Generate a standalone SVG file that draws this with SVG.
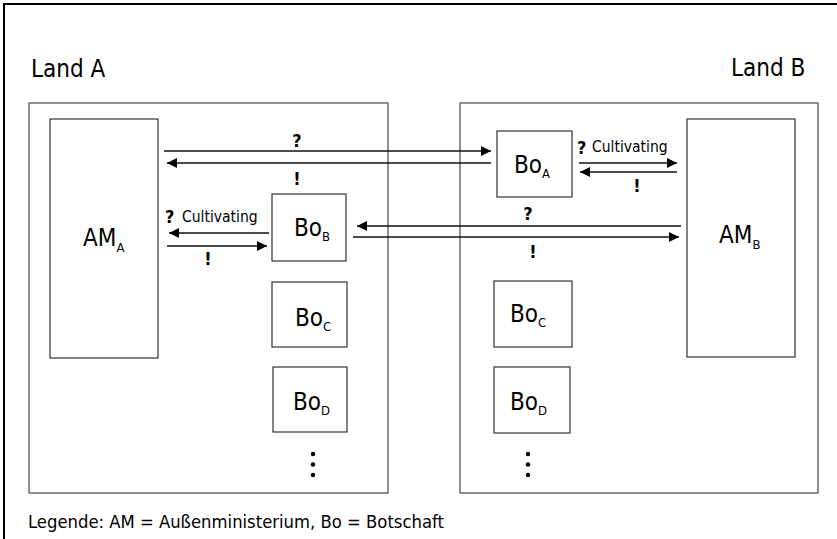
<svg xmlns="http://www.w3.org/2000/svg" width="837" height="539" viewBox="0 0 837 539">
<defs>
<marker id="ah" viewBox="0 0 10 10" refX="10" refY="5" markerWidth="10" markerHeight="10" markerUnits="userSpaceOnUse" orient="auto">
<path d="M0,0 L10,5 L0,10 z" fill="#000"/>
</marker>
<style>
text{font-family:"DejaVu Sans Condensed","DejaVu Sans",sans-serif;fill:#000}
.land{fill:#fff;stroke:#555;stroke-width:1.3}
.box{fill:#fff;stroke:#333;stroke-width:1.2}
.lbl{font-size:24px}
.sub{font-size:13px}
.big{font-size:24px}
.mk{font-size:18px;font-weight:bold;text-anchor:middle}
.mk2{font-size:18px;font-weight:bold}
.cult{font-size:15.5px}
.arr{stroke:#111;stroke-width:1.3;fill:none;marker-end:url(#ah)}
.leg{font-size:18.3px}
</style>
</defs>
<rect x="0" y="0" width="837" height="539" fill="#fff"/>
<rect x="4" y="4" width="840" height="540" fill="none" stroke="#000" stroke-width="2"/>

<g id="landA">
<rect class="land" x="29" y="103" width="359" height="390"/>
<text class="big" x="31" y="77">Land A</text>
</g>
<g id="landB">
<rect class="land" x="460" y="103" width="358" height="390"/>
<text class="big" x="731" y="76">Land B</text>
</g>

<g id="AM_A">
<rect class="box" x="50" y="119" width="108" height="239"/>
<text class="lbl" x="83" y="246">AM<tspan class="sub" dy="6">A</tspan></text>
</g>
<g id="AM_B">
<rect class="box" x="687" y="119" width="108" height="238"/>
<text class="lbl" x="719" y="243">AM<tspan class="sub" dy="6">B</tspan></text>
</g>
<g id="Bo_A">
<rect class="box" x="497" y="131" width="75" height="66"/>
<text class="lbl" x="514" y="173">Bo<tspan class="sub" dy="5">A</tspan></text>
</g>
<g id="Bo_B">
<rect class="box" x="272" y="194" width="74" height="67"/>
<text class="lbl" x="294" y="236">Bo<tspan class="sub" dy="5">B</tspan></text>
</g>
<g id="Bo_C_A">
<rect class="box" x="272" y="282" width="75" height="65"/>
<text class="lbl" x="295" y="326">Bo<tspan class="sub" dy="5">C</tspan></text>
</g>
<g id="Bo_D_A">
<rect class="box" x="273" y="367" width="74" height="65"/>
<text class="lbl" x="293" y="410">Bo<tspan class="sub" dy="5">D</tspan></text>
</g>
<g id="Bo_C_B">
<rect class="box" x="494" y="281" width="78" height="66"/>
<text class="lbl" x="510" y="322">Bo<tspan class="sub" dy="5">C</tspan></text>
</g>
<g id="Bo_D_B">
<rect class="box" x="494" y="367" width="76" height="66"/>
<text class="lbl" x="510" y="410">Bo<tspan class="sub" dy="5">D</tspan></text>
</g>
<g id="dotsA" fill="#000">
<circle cx="313" cy="454" r="2.2"/><circle cx="313" cy="464.5" r="2.2"/><circle cx="313" cy="475" r="2.2"/>
</g>
<g id="dotsB" fill="#000">
<circle cx="528" cy="454" r="2.2"/><circle cx="528" cy="464.5" r="2.2"/><circle cx="528" cy="475" r="2.2"/>
</g>

<g id="connectors">
<line class="arr" x1="164" y1="151" x2="491" y2="151"/>
<line class="arr" x1="491" y1="163" x2="167" y2="163"/>
<line class="arr" x1="579" y1="163" x2="677" y2="163"/>
<line class="arr" x1="677" y1="172" x2="580" y2="172"/>
<line class="arr" x1="681" y1="226" x2="357" y2="226"/>
<line class="arr" x1="353" y1="237" x2="679" y2="237"/>
<line class="arr" x1="269" y1="233" x2="169" y2="233"/>
<line class="arr" x1="167" y1="246" x2="267" y2="246"/>
<text class="mk" x="297" y="147">?</text>
<text class="mk" x="297" y="185">!</text>
<text class="mk" x="528" y="220">?</text>
<text class="mk" x="533" y="258">!</text>
<text class="mk" x="637" y="192">!</text>
<text class="mk" x="208" y="265">!</text>
<text class="mk2" x="577" y="154">?</text>
<text class="cult" x="592" y="152">Cultivating</text>
<text class="mk2" x="165" y="223">?</text>
<text class="cult" x="182" y="222">Cultivating</text>
</g>

<text class="leg" x="28" y="528">Legende: AM = Außenministerium, Bo = Botschaft</text>
</svg>
